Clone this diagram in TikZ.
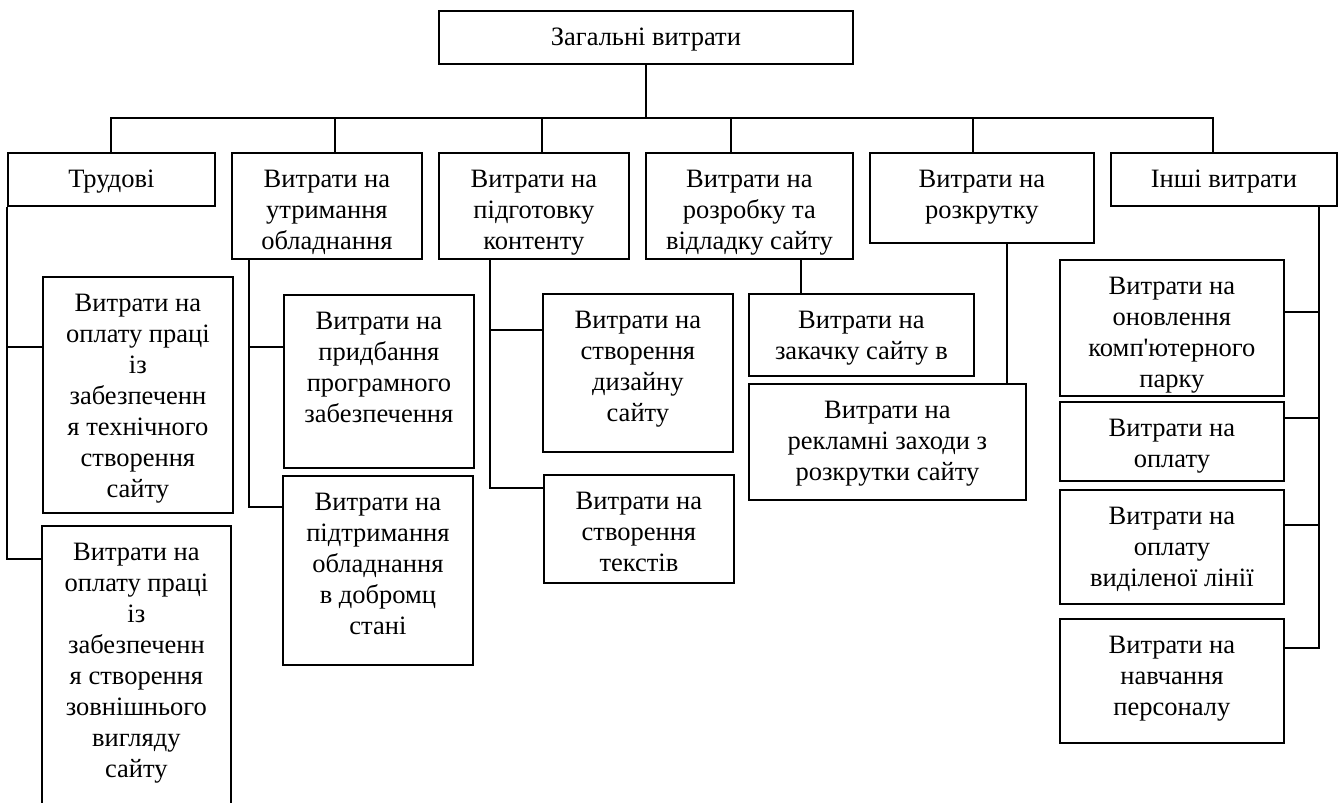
\documentclass[tikz,border=0pt]{standalone}
\usepackage{fontspec}
\setmainfont{Liberation Serif}[Ligatures=TeXOff]
\usepackage{tikz}

\begin{document}
\begin{tikzpicture}[x=1pt, y=1pt,
  box/.style={draw, line width=1.8pt, anchor=north west, inner sep=0pt},
  lab/.style={anchor=north, yshift=-18, inner sep=0pt, align=center,
              font=\fontsize{26.5}{31}\selectfont},
  txt/.style={label={[lab]north:{#1}}},
  wire/.style={line width=1.8pt}
]
\useasboundingbox (0,0) rectangle (1342,-803);
\clip (0,0) rectangle (1342,-803);

% top and first level
\node[box, minimum width=414, minimum height=53, txt={Загальні витрати}] (total) at (438,-10) {};
\node[box, minimum width=207, minimum height=53, txt={Трудові}] (trud) at (7,-152) {};
\node[box, minimum width=190, minimum height=106, txt={Витрати на\\утримання\\обладнання}] (utr) at (231,-152) {};
\node[box, minimum width=190, minimum height=106, txt={Витрати на\\підготовку\\контенту}] (pidg) at (438,-152) {};
\node[box, minimum width=207, minimum height=106, txt={Витрати на\\розробку та\\відладку сайту}] (rozr) at (645,-152) {};
\node[box, minimum width=224, minimum height=90, txt={Витрати на\\розкрутку}] (rozk) at (869,-152) {};
\node[box, minimum width=226, minimum height=53, txt={Інші витрати}] (inshi) at (1110,-152) {};

% second level
\node[box, minimum width=190, minimum height=236, txt={Витрати на\\оплату праці\\із\\забезпеченн\\я технічного\\створення\\сайту}] (t1) at (42,-276) {};
\node[box, minimum width=189, minimum height=320, txt={Витрати на\\оплату праці\\із\\забезпеченн\\я створення\\зовнішнього\\вигляду\\сайту}] (t2) at (41,-525) {};
\node[box, minimum width=190, minimum height=173, txt={Витрати на\\придбання\\програмного\\забезпечення}] (prid) at (283,-294) {};
\node[box, minimum width=190, minimum height=189, txt={Витрати на\\підтримання\\обладнання\\в добромц\\стані}] (pidt) at (282,-475) {};
\node[box, minimum width=190, minimum height=158, txt={Витрати на\\створення\\дизайну\\сайту}] (diz) at (542,-293) {};
\node[box, minimum width=190, minimum height=108, txt={Витрати на\\створення\\текстів}] (tekst) at (543,-474) {};
\node[box, minimum width=225, minimum height=82, txt={Витрати на\\закачку сайту в}] (zak) at (748,-293) {};
\node[box, minimum width=277, minimum height=116, txt={Витрати на\\рекламні заходи з\\розкрутки сайту}] (rekl) at (748,-383) {};
\node[box, minimum width=224, minimum height=136, txt={Витрати на\\оновлення\\комп'ютерного\\парку}] (onov) at (1059,-259) {};
\node[box, minimum width=224, minimum height=79, txt={Витрати на\\оплату}] (opl) at (1059,-401) {};
\node[box, minimum width=224, minimum height=114, txt={Витрати на\\оплату\\виділеної лінії}] (vyd) at (1059,-489) {};
\node[box, minimum width=224, minimum height=124, txt={Витрати на\\навчання\\персоналу}] (navch) at (1059,-618) {};

% bus under the top box
\coordinate (hub) at ([yshift=-53]total.south);
\draw[wire] (total.south) -- (hub);
\foreach \n/\dx in {trud/104, utr/104, pidg/104, rozr/86, rozk/104, inshi/103}
  \draw[wire] ([xshift=\dx]\n.north west) |- (hub);

% branches on the left side of the children
\foreach \c/\dy in {t1/71, t2/34}
  \draw[wire] ([yshift=-\dy]\c.north west) -| (trud.south west);
\foreach \c/\dy in {prid/53, pidt/32}
  \draw[wire] ([yshift=-\dy]\c.north west) -| ([xshift=18]utr.south west);
\foreach \c/\dy in {diz/37, tekst/14}
  \draw[wire] ([yshift=-\dy]\c.north west) -| ([xshift=52]pidg.south west);
\draw[wire] ([xshift=53]zak.north west) -- ([xshift=156]rozr.south west);
\draw[wire] ([xshift=259]rekl.north west) -- ([xshift=138]rozk.south west);

% right column hangs off the east side
\foreach \c/\dy in {onov/53, opl/17, vyd/36, navch/30}
  \draw[wire] ([yshift=-\dy]\c.north east) -| ([xshift=-19]inshi.south east);
\end{tikzpicture}
\end{document}
